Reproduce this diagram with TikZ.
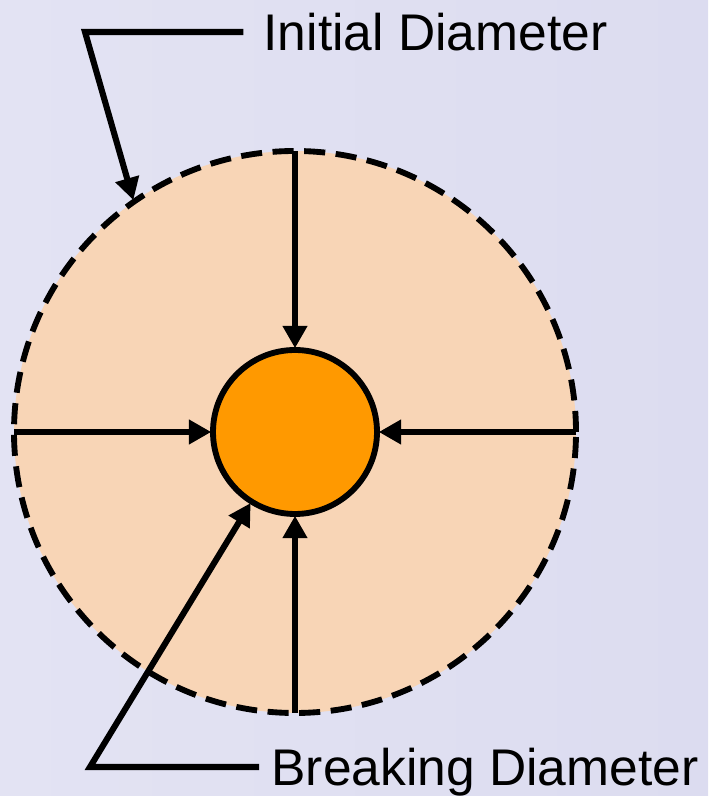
\documentclass[tikz,border=0pt]{standalone}
\usepackage{fontspec}
\setmainfont{Liberation Sans}
\usetikzlibrary{arrows.meta, positioning}
\definecolor{Lavender}{HTML}{DCDCF0}
\definecolor{Peach}{HTML}{F8D5B6}
\definecolor{Amber}{HTML}{FF9900}

\begin{document}
\begin{tikzpicture}[
        pointer/.style={-{Triangle[length=19pt, width=20pt]}, line width=5.2pt, shorten >=1.5pt},
        lbl/.style={font=\fontsize{44}{48}\selectfont, inner ysep=0pt, text depth=0pt, anchor=west}
    ]
        % backdrop
        \shade[left color=Lavender!80!white, right color=Lavender] (0,0) rectangle (21.24,23.88);
        \useasboundingbox (0,0) rectangle (21.24,23.88);
        \node (outer) [circle, minimum size=16.86cm, inner sep=0pt, outer sep=0pt, fill=Peach, draw, line width=5pt, dash pattern=on 18pt off 9pt] at (8.85,10.92) {};
        \node (core) [circle, minimum size=4.92cm, inner sep=0pt, outer sep=0pt, fill=Amber, draw, line width=5pt] at (8.85,10.92) {};
        \draw[pointer] (outer.north) -- (core.north);
        \draw[pointer] (outer.south) -- (core.south);
        \draw[pointer] (outer.west) -- (core.west);
        \draw[pointer] (outer.east) -- (core.east);
        % labels
        \node (initLbl) [lbl, inner xsep=0.6cm] at (7.3,22.92) {Initial Diameter};
        \coordinate (initBend) at (2.55,22.92);
        \draw[pointer] (initLbl.west) -- (initBend) -- (outer.125);
        \node (breakLbl) [lbl, inner xsep=0.37cm] at (7.77,0.87) {Breaking Diameter};
        \coordinate (breakBend) at (2.7,0.87);
        \draw[pointer] (breakLbl.west) -- (breakBend) -- (core.238);
    \end{tikzpicture}
\end{document}
